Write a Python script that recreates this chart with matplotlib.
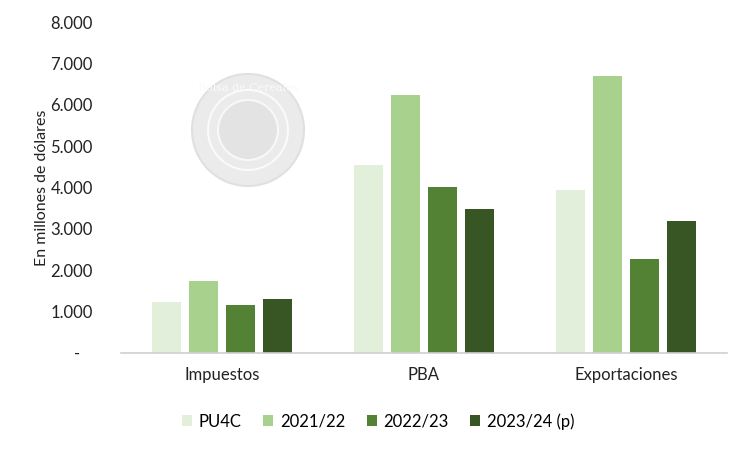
import matplotlib.pyplot as plt
import numpy as np
from matplotlib.patches import Circle

categories = ["Impuestos", "PBA", "Exportaciones"]
series = ["PU4C", "2021/22", "2022/23", "2023/24 (p)"]
pu4c = [1220, 4540, 3930]
c2122 = [1740, 6230, 6690]
c2223 = [1160, 4010, 2270]
c2324 = [1300, 3480, 3190]
colors = ["#E2EFDA", "#A9D18E", "#548235", "#375623"]
yticks = [0, 1000, 2000, 3000, 4000, 5000, 6000, 7000, 8000]

plt.rcParams["font.family"] = ["Lato", "DejaVu Sans"]

fig = plt.figure(figsize=(7.5, 4.5), dpi=100)
ax = fig.add_axes([0.161, 0.216, 0.808, 0.735])

x = np.arange(len(categories))
w = 0.144
step = 0.183
for i, (name, vals) in enumerate(zip(series, [pu4c, c2122, c2223, c2324])):
    ax.bar(x + (i - 1.5) * step, vals, width=w, color=colors[i], label=name, zorder=2)

ax.set_xlim(-0.5, 2.5)
ax.set_ylim(0, 8000)
ax.set_yticks(yticks)
# formato contable: el cero se muestra como guion
ax.set_yticklabels(["-   "] + [f"{v:,}".replace(",", ".") for v in yticks[1:]],
                   fontsize=12, color="#222222")
ax.set_xticks(x)
ax.set_xticklabels(categories, fontsize=12, color="#222222")
ax.tick_params(length=0)
ax.tick_params(axis="y", pad=20)
ax.tick_params(axis="x", pad=10)
for s in ["top", "right", "left"]:
    ax.spines[s].set_visible(False)
ax.spines["bottom"].set_color("#D0D0D0")
ax.spines["bottom"].set_linewidth(1.2)
ax.set_ylabel("En millones de dólares", fontsize=11.5, color="#222222", labelpad=1)

# marca de agua (aproximada)
fig.patches.append(Circle((248, 450 - 130), 56, transform=None, facecolor="#EBEBEB",
                          edgecolor="#E0E0E0", lw=1.5, zorder=0))
fig.patches.append(Circle((248, 450 - 130), 40, transform=None, facecolor="none",
                          edgecolor="#FAFAFA", lw=1.5, zorder=0))
fig.patches.append(Circle((248, 450 - 130), 30, transform=None, facecolor="#E3E3E3",
                          edgecolor="#F8F8F8", lw=1.5, zorder=0))
fig.text(248 / 750, 1 - 88 / 450, "Bolsa de Cereales", ha="center", va="center",
         fontsize=8, color="#FAFAFA", family="DejaVu Serif")

ax.legend(loc="center", bbox_to_anchor=(0.425, -0.207), ncol=4, frameon=False,
          fontsize=12, handlelength=0.6, handleheight=0.6, columnspacing=1.3,
          handletextpad=0.4)

fig.savefig("out.png", dpi=100)
